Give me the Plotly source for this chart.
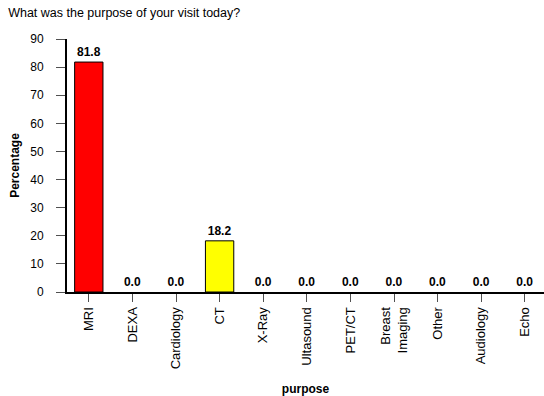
import plotly.graph_objects as go

categories = ["MRI", "DEXA", "Cardiology", "CT", "X-Ray", "Ultasound", "PET/CT",
              "Breast<br>Imaging", "Other", "Audiology", "Echo"]
values = [81.8, 0.0, 0.0, 18.2, 0.0, 0.0, 0.0, 0.0, 0.0, 0.0, 0.0]
colors = ["#FF0000", "#FFFFFF", "#FFFFFF", "#FFFF00", "#FFFFFF", "#FFFFFF",
          "#FFFFFF", "#FFFFFF", "#FFFFFF", "#FFFFFF", "#FFFFFF"]
labels = [f"{v:.1f}" for v in values]
y_ticks = [0, 10, 20, 30, 40, 50, 60, 70, 80, 90]

font = "Liberation Sans, Arial, sans-serif"

fig = go.Figure(go.Bar(
    x=list(range(len(categories))),
    y=values,
    width=0.65,
    marker=dict(color=colors,
                line=dict(color="black", width=[1 if v > 0 else 0 for v in values])),
    text=[f"<b>{t}</b>" for t in labels],
    textposition="outside",
    textfont=dict(family=font, size=12, color="black"),
    cliponaxis=False,
))

fig.update_layout(
    width=544, height=396,
    margin=dict(l=67, r=0, t=39, b=104),
    plot_bgcolor="white", paper_bgcolor="white",
    showlegend=False,
    font=dict(family=font, size=12, color="black"),
    title=dict(text="What was the purpose of your visit today?",
               xref="container", x=0.015, xanchor="left",
               yref="container", y=0.967, yanchor="middle",
               font=dict(family=font, size=12.5, color="black")),
    xaxis=dict(
        tickmode="array",
        tickvals=list(range(len(categories))),
        ticktext=categories,
        tickangle=-90,
        range=[-0.5, 10.44],
        showline=True, linecolor="black", linewidth=2,
        ticks="outside", ticklen=8, tickcolor="#505050", tickwidth=1,
        tickson="boundaries",
        showgrid=False, zeroline=False,
        tickfont=dict(family=font, size=13),
        title=dict(text="<b>purpose</b>", font=dict(family=font, size=12), standoff=16),
        automargin=False,
    ),
    yaxis=dict(
        range=[0, 90],
        tickvals=y_ticks,
        showline=True, linecolor="black", linewidth=2,
        ticks="outside", ticklen=9, tickcolor="#505050", tickwidth=1,
        ticklabelstandoff=10,
        showgrid=False, zeroline=False,
        tickfont=dict(family=font, size=12),
        title=dict(text="<b>Percentage</b>", font=dict(family=font, size=12), standoff=8),
        automargin=False,
    ),
)

fig.write_html("out.html", config={"displayModeBar": False},
               post_script="document.body.style.margin='0';")
